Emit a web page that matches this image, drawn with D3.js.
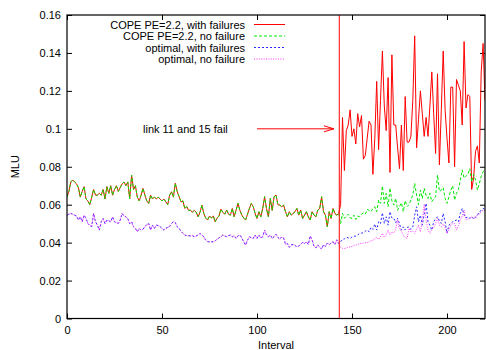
<!DOCTYPE html>
<html>
<head>
<meta charset="utf-8">
<script src="https://cdn.jsdelivr.net/npm/d3@7"></script>
<style>
  body { margin: 0; background: #fff; }
  svg { display: block; font-family: "Liberation Sans", Arial, sans-serif; font-size: 11px; }
</style>
</head>
<body>
<svg id="chart" width="486" height="350"></svg>
<script>
// intervals 0..143 : both schemes identical before the failure
const preFailCope = [
  0.064,0.067,0.072,0.073,0.072,0.071,0.069,0.064,0.067,0.0695,
  0.063,0.062,0.060,0.064,0.068,0.065,0.065,0.066,0.065,0.068,
  0.063,0.0695,0.066,0.070,0.065,0.068,0.070,0.067,0.069,0.071,
  0.072,0.070,0.072,0.063,0.0756,0.068,0.070,0.064,0.062,0.065,
  0.0686,0.065,0.062,0.0607,0.065,0.063,0.064,0.063,0.064,0.063,
  0.062,0.063,0.0615,0.060,0.065,0.0668,0.064,0.0713,0.067,0.0642,
  0.0615,0.062,0.058,0.059,0.057,0.0571,0.056,0.057,0.056,0.0536,
  0.056,0.0598,0.0554,0.053,0.0519,0.054,0.053,0.054,0.051,0.053,
  0.054,0.0576,0.056,0.055,0.0572,0.055,0.0545,0.058,0.0536,0.0572,
  0.0607,0.057,0.0545,0.053,0.0519,0.055,0.058,0.0607,0.059,0.0554,
  0.0527,0.0563,0.0536,0.058,0.0642,0.058,0.0536,0.0633,0.057,0.0642,
  0.0651,0.060,0.0598,0.0589,0.0598,0.0563,0.0536,0.0563,0.0545,0.0554,
  0.0563,0.058,0.0545,0.0572,0.0527,0.0545,0.0563,0.0536,0.0519,0.0563,
  0.0545,0.0536,0.0572,0.058,0.0642,0.0563,0.0545,0.0484,0.0563,0.0527,
  0.058,0.0554,0.0545,0.0554
];
const preFailOpt = [
  0.0545,0.055,0.0554,0.055,0.0545,0.054,0.0519,0.0536,0.051,0.0545,
  0.0527,0.0501,0.049,0.0484,0.0554,0.051,0.0492,0.0466,0.051,0.0527,
  0.050,0.0519,0.0515,0.051,0.0536,0.051,0.0505,0.0501,0.0519,0.0554,
  0.054,0.0536,0.0527,0.050,0.051,0.0484,0.0475,0.0457,0.0475,0.0466,
  0.047,0.0484,0.0495,0.0501,0.0466,0.0492,0.0475,0.0492,0.049,0.0484,
  0.0475,0.0466,0.0475,0.048,0.0484,0.0501,0.051,0.0505,0.0484,0.0475,
  0.046,0.0449,0.044,0.0437,0.0436,0.0435,0.0437,0.0431,0.0435,0.044,
  0.0449,0.044,0.0431,0.0413,0.0405,0.0404,0.0405,0.0404,0.041,0.0418,
  0.0425,0.0431,0.044,0.0435,0.0431,0.0437,0.044,0.0431,0.0436,0.0422,
  0.0436,0.044,0.0425,0.0404,0.0387,0.0413,0.0431,0.0425,0.0422,0.044,
  0.0422,0.044,0.0425,0.0431,0.0466,0.044,0.0431,0.044,0.0422,0.0431,
  0.0445,0.0428,0.0418,0.043,0.0425,0.0392,0.0395,0.0375,0.0388,0.039,
  0.0385,0.0378,0.0382,0.039,0.0402,0.0395,0.0405,0.039,0.0435,0.0415,
  0.038,0.0372,0.0388,0.0376,0.0366,0.0388,0.038,0.0398,0.0388,0.0398,
  0.0405,0.039,0.0415,0.0395
];

// intervals 144..220
const copeFailPost = [
  0.060,0.106,0.078,0.099,0.102,0.110,0.096,0.100,0.092,0.108,
  0.101,0.107,0.084,0.086,0.095,0.104,0.102,0.076,0.095,0.125,
  0.089,0.115,0.141,0.112,0.099,0.127,0.077,0.139,0.102,0.102,
  0.090,0.079,0.102,0.078,0.117,0.093,0.093,0.096,0.115,0.149,
  0.090,0.105,0.120,0.108,0.096,0.106,0.096,0.112,0.130,0.108,
  0.087,0.129,0.081,0.110,0.141,0.110,0.095,0.082,0.122,0.122,
  0.080,0.126,0.123,0.120,0.102,0.146,0.111,0.118,0.117,0.068,
  0.074,0.088,0.091,0.082,0.130,0.145,0.115
];
const copeNoFailPost = [
  0.050,0.0554,0.0528,0.054,0.055,0.053,0.0528,0.0545,0.0522,0.054,
  0.0536,0.055,0.0557,0.055,0.0575,0.057,0.0563,0.058,0.0589,0.0563,
  0.0624,0.0607,0.0698,0.0607,0.066,0.0589,0.0688,0.062,0.0598,0.0633,
  0.0571,0.059,0.061,0.0563,0.0621,0.059,0.060,0.0624,0.0651,0.0712,
  0.0651,0.060,0.0677,0.0633,0.0686,0.065,0.0633,0.066,0.0616,0.063,
  0.0642,0.0756,0.067,0.0677,0.069,0.0633,0.0607,0.064,0.0677,0.070,
  0.0624,0.066,0.068,0.073,0.0783,0.074,0.075,0.076,0.079,0.072,
  0.076,0.073,0.0677,0.071,0.075,0.0774,0.078
];
const optFailPost = [
  0.0404,0.0417,0.042,0.0428,0.0425,0.0422,0.043,0.0434,0.0434,0.044,
  0.0449,0.045,0.0452,0.046,0.0466,0.0457,0.048,0.047,0.0498,0.0466,
  0.051,0.050,0.0557,0.0501,0.0536,0.0492,0.0563,0.053,0.0528,0.0505,
  0.0528,0.050,0.0466,0.0483,0.0466,0.048,0.0483,0.047,0.0483,0.0545,
  0.0589,0.051,0.0545,0.0492,0.055,0.0607,0.051,0.0492,0.0466,0.051,
  0.0525,0.0536,0.0515,0.0501,0.0554,0.051,0.0449,0.0492,0.0501,0.051,
  0.0515,0.0519,0.051,0.0554,0.058,0.0545,0.053,0.0536,0.0528,0.0536,
  0.0525,0.0536,0.0545,0.0563,0.057,0.058,0.0575
];
const optNoFailPost = [
  0.0375,0.037,0.0369,0.0372,0.0375,0.0378,0.038,0.0385,0.0387,0.039,
  0.0396,0.0395,0.0398,0.0399,0.040,0.0404,0.041,0.0413,0.042,0.0428,
  0.0417,0.043,0.0449,0.0428,0.044,0.0466,0.044,0.0457,0.045,0.047,
  0.0519,0.0475,0.046,0.044,0.0427,0.0422,0.0475,0.0457,0.046,0.0449,
  0.047,0.0492,0.0457,0.051,0.0603,0.052,0.0466,0.0449,0.047,0.048,
  0.050,0.0528,0.0492,0.0483,0.0498,0.048,0.0449,0.047,0.0492,0.050,
  0.0501,0.0466,0.049,0.0519,0.054,0.0571,0.0519,0.0525,0.0528,0.0536,
  0.053,0.0528,0.0545,0.055,0.0563,0.0571,0.057
];

const seriesNames = ["COPE PE=2.2, with failures", "COPE PE=2.2, no failure",
                     "optimal, with failures", "optimal, no failure"];
const seriesColors = ["#ff0000", "#00e600", "#2a2aff", "#ff33ff"];
const seriesDash = [null, "3,2", "2,2", "1,1.4"];
const yTicks = [0, 0.02, 0.04, 0.06, 0.08, 0.1, 0.12, 0.14, 0.16];
const xTicks = [0, 50, 100, 150, 200];
const failAt = 143.3;
const noteText = "link 11 and 15 fail";

const series = [
  preFailCope.concat(copeFailPost),
  preFailCope.concat(copeNoFailPost),
  preFailOpt.concat(optFailPost),
  preFailOpt.concat(optNoFailPost)
];

const svg = d3.select("#chart");
const plotLeft = 67, plotRight = 485, plotTop = 15, plotBottom = 318.5;
const x = d3.scaleLinear().domain([0, 220]).range([plotLeft, plotRight]);
const y = d3.scaleLinear().domain([0, 0.16]).range([plotBottom, plotTop]);

svg.append("rect").attr("width", 486).attr("height", 350).attr("fill", "#fff");

svg.append("clipPath").attr("id", "clip")
  .append("rect").attr("x", plotLeft).attr("y", plotTop)
  .attr("width", plotRight - plotLeft).attr("height", plotBottom - plotTop);

// axes, ticks pointing inward (gnuplot style, mirrored)
const fmt = d => d === 0 ? "0" : d3.format("~g")(d);
const axes = svg.append("g").attr("class", "axes");
axes.append("g").attr("transform", `translate(${plotLeft},0)`)
  .call(d3.axisLeft(y).tickValues(yTicks).tickFormat(fmt).tickSizeInner(-5).tickSizeOuter(0).tickPadding(6));
axes.append("g").attr("transform", `translate(${plotRight},0)`)
  .call(d3.axisRight(y).tickValues(yTicks).tickFormat("").tickSizeInner(-5).tickSizeOuter(0));
axes.append("g").attr("transform", `translate(0,${plotBottom})`)
  .call(d3.axisBottom(x).tickValues(xTicks).tickFormat(d3.format("d")).tickSizeInner(-5).tickSizeOuter(0).tickPadding(8));
axes.append("g").attr("transform", `translate(0,${plotTop})`)
  .call(d3.axisTop(x).tickValues(xTicks).tickFormat("").tickSizeInner(-5).tickSizeOuter(0));
axes.selectAll(".domain").remove();
axes.selectAll("text").attr("font-size", 11).attr("font-family", "Liberation Sans, Arial, sans-serif").attr("fill", "#000");

// lines
const line = d3.line().x((d, i) => x(i)).y(d => y(d));
const plot = svg.append("g").attr("clip-path", "url(#clip)");
series.forEach((s, k) => {
  plot.append("path")
    .datum(s)
    .attr("d", line)
    .attr("fill", "none")
    .attr("stroke", seriesColors[k])
    .attr("stroke-width", 1)
    .attr("stroke-dasharray", seriesDash[k]);
});

// failure marker
svg.append("line")
  .attr("x1", x(failAt)).attr("x2", x(failAt))
  .attr("y1", y(0.16)).attr("y2", y(0))
  .attr("stroke", "#ff0000").attr("stroke-width", 1);

// frame
svg.append("rect")
  .attr("x", plotLeft).attr("y", plotTop)
  .attr("width", plotRight - plotLeft).attr("height", plotBottom - plotTop)
  .attr("fill", "none").attr("stroke", "#000").attr("stroke-width", 1.2);

// annotation + arrow
svg.append("text").attr("x", x(40)).attr("y", y(0.1) + 4).text(noteText);
const ax1 = x(100), ax2 = x(140.5), ay = y(0.1);
svg.append("line").attr("x1", ax1).attr("x2", ax2).attr("y1", ay).attr("y2", ay)
  .attr("stroke", "#ff0000");
svg.append("path")
  .attr("d", `M${ax2 - 10},${ay - 3}L${ax2},${ay}L${ax2 - 10},${ay + 3}`)
  .attr("fill", "none").attr("stroke", "#ff0000");

// legend
const legend = svg.append("g");
seriesNames.forEach((name, k) => {
  const ly = 24.5 + k * 11.5;
  legend.append("text").attr("x", 245).attr("y", ly + 4)
    .attr("text-anchor", "end").text(name);
  legend.append("line").attr("x1", 254).attr("x2", 285).attr("y1", ly).attr("y2", ly)
    .attr("stroke", seriesColors[k]).attr("stroke-width", 1)
    .attr("stroke-dasharray", seriesDash[k]);
});

// axis titles
svg.append("text").attr("x", (plotLeft + plotRight) / 2).attr("y", 349)
  .attr("text-anchor", "middle").text("Interval");
svg.append("text").attr("transform", `translate(19,${y(0.08)}) rotate(-90)`)
  .attr("text-anchor", "middle").text("MLU");
</script>
</body>
</html>
